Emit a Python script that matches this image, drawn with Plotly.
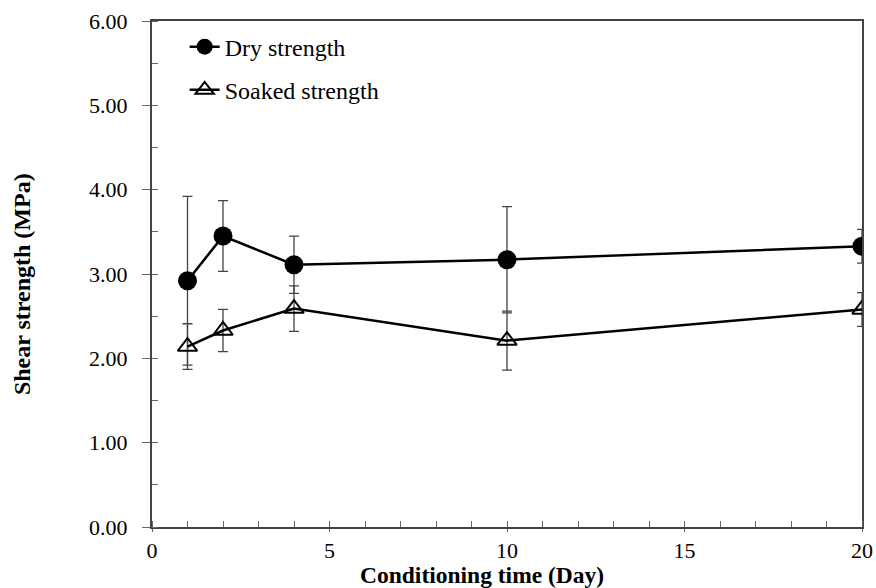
import plotly.graph_objects as go

days = [1, 2, 4, 10, 20]
dry = [2.92, 3.45, 3.11, 3.17, 3.33]
dry_err = [1.00, 0.42, 0.34, 0.63, 0.20]
soaked = [2.14, 2.33, 2.59, 2.21, 2.58]
soaked_err = [0.27, 0.25, 0.27, 0.35, 0.20]

x_title = "Conditioning time (Day)"
y_title = "Shear strength (MPa)"

fig = go.Figure()
fig.add_trace(go.Scatter(
    x=days, y=dry, name="Dry strength", mode="lines+markers", legendgroup="a",
    line=dict(color="black", width=2.5),
    marker=dict(symbol="circle", size=19, color="black"),
    error_y=dict(type="data", array=dry_err, visible=True, color="#444", thickness=1.3, width=5),
))
fig.add_trace(go.Scatter(
    x=days, y=soaked, name="Soaked strength", mode="lines+markers", legendgroup="b",
    line=dict(color="black", width=2.5),
    marker=dict(symbol="triangle-up-open", size=17, color="black", line=dict(width=2)),
    error_y=dict(type="data", array=soaked_err, visible=True, color="#444", thickness=1.3, width=5),
))

font = "Liberation Serif, Times New Roman, serif"
fig.update_layout(
    width=876, height=588,
    margin=dict(l=152, r=14, t=21, b=61),
    plot_bgcolor="white", paper_bgcolor="white",
    font=dict(family=font, size=20, color="black"),
    legend=dict(x=0.046, y=0.993, xanchor="left", yanchor="top",
                bgcolor="rgba(0,0,0,0)", font=dict(size=24, family=font),
                traceorder="grouped", tracegroupgap=9),
    showlegend=True,
    annotations=[
        dict(text="<b>" + x_title + "</b>", xref="paper", yref="paper",
             x=0.465, y=0, xanchor="center", yanchor="middle", yshift=-48,
             showarrow=False, font=dict(size=23.5, family=font)),
        dict(text="<b>" + y_title + "</b>", xref="paper", yref="paper",
             x=0, y=0.48, xanchor="center", yanchor="middle", xshift=-130,
             textangle=-90, showarrow=False, font=dict(size=24, family=font)),
    ],
)
fig.update_xaxes(
    range=[0, 20], tickvals=[0, 5, 10, 15, 20], ticks="outside", ticklen=3,
    tickcolor="#666", showgrid=False, zeroline=False, automargin=False,
    showline=True, linecolor="#444", linewidth=2, mirror=True,
    minor=dict(dtick=1, ticks="inside", ticklen=6, tickcolor="#666", showgrid=False),
    tickfont=dict(size=22), ticklabelstandoff=0, ticklabeloverflow="allow",
)
fig.update_yaxes(
    range=[0, 6], tickvals=[0, 1, 2, 3, 4, 5, 6], tickformat=".2f",
    ticks="outside", ticklen=8, tickcolor="#666", showgrid=False, zeroline=False,
    automargin=False,
    showline=True, linecolor="#444", linewidth=2, mirror=True,
    minor=dict(dtick=0.5, ticks="inside", ticklen=6, tickcolor="#666", showgrid=False),
    tickfont=dict(size=22), ticklabelstandoff=10,
)
fig.write_html(
    "out.html",
    config={"displayModeBar": False},
    post_script="document.body.style.margin='0';document.body.style.overflow='hidden';",
)
